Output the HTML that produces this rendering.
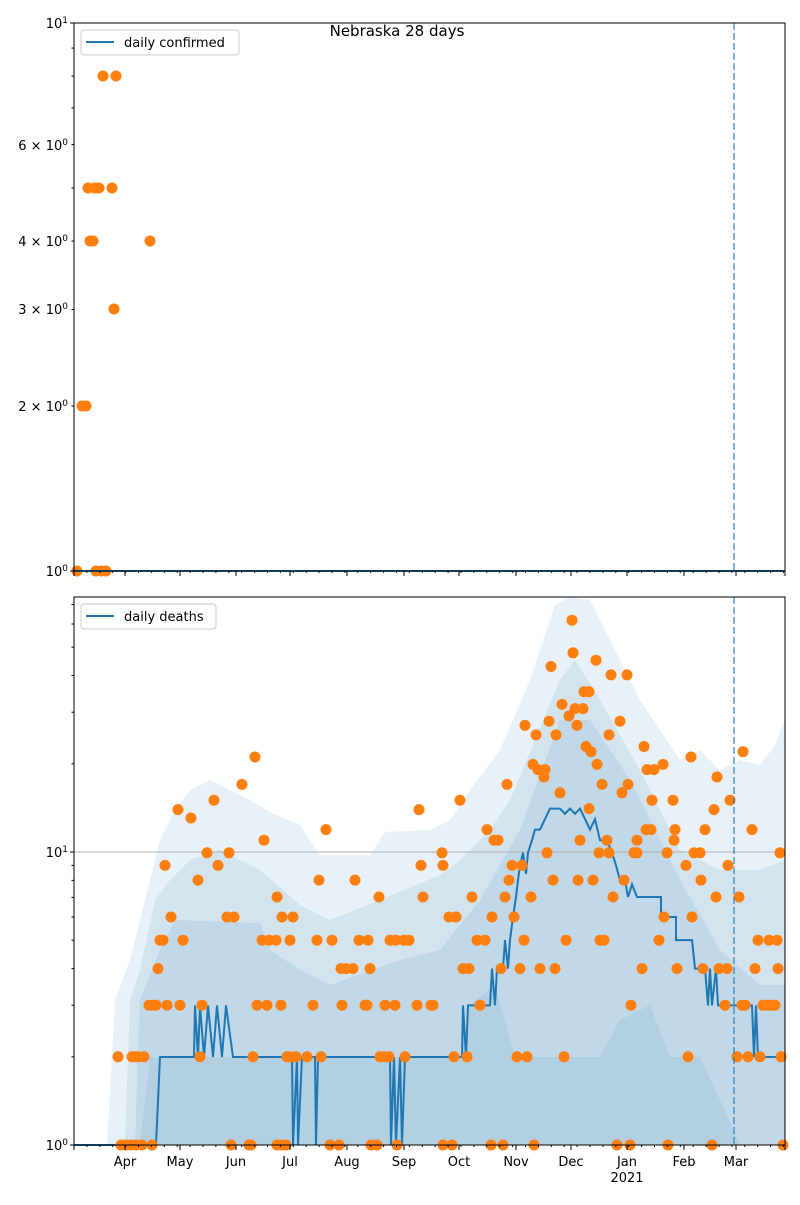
<!DOCTYPE html>
<html><head><meta charset="utf-8"><style>
body{margin:0;background:#fff}
svg text{font-family:"DejaVu Sans","Liberation Sans",sans-serif;font-size:13px;fill:#000}
</style></head><body>
<svg id="s" width="800" height="1200" xmlns="http://www.w3.org/2000/svg">
<rect width="800" height="1200" fill="#fff"/>
<g id="bands"></g>
<line x1="74" y1="852" x2="785" y2="852" stroke="#b0b0b0" stroke-width="1"/>
<g id="line"></g>
<g id="pts"></g>
<line x1="734" y1="23" x2="734" y2="571" stroke="#1f77b4" stroke-opacity="0.55" stroke-width="2" stroke-dasharray="7,3"/>
<line x1="734" y1="597" x2="734" y2="1145" stroke="#1f77b4" stroke-opacity="0.55" stroke-width="2" stroke-dasharray="7,3"/>
<line x1="74" y1="571" x2="785" y2="571" stroke="#1f77b4" stroke-width="2"/>
<rect x="74" y="23" width="711" height="548" fill="none" stroke="#000" stroke-width="1"/>
<rect x="74" y="597" width="711" height="548" fill="none" stroke="#000" stroke-width="1"/>
<g id="ticks" stroke="#000" stroke-width="1"></g>
<text x="397" y="36" text-anchor="middle" style="font-size:15px">Nebraska 28 days</text>
<text x="68" y="28" text-anchor="end">10<tspan dy="-5" style="font-size:9px">1</tspan></text>
<text x="68" y="150" text-anchor="end">6 × 10<tspan dy="-5" style="font-size:9px">0</tspan></text>
<text x="68" y="246" text-anchor="end">4 × 10<tspan dy="-5" style="font-size:9px">0</tspan></text>
<text x="68" y="314" text-anchor="end">3 × 10<tspan dy="-5" style="font-size:9px">0</tspan></text>
<text x="68" y="411" text-anchor="end">2 × 10<tspan dy="-5" style="font-size:9px">0</tspan></text>
<text x="68" y="576" text-anchor="end">10<tspan dy="-5" style="font-size:9px">0</tspan></text>
<text x="68" y="857" text-anchor="end">10<tspan dy="-5" style="font-size:9px">1</tspan></text>
<text x="68" y="1150" text-anchor="end">10<tspan dy="-5" style="font-size:9px">0</tspan></text>
<g text-anchor="middle">
<text x="125" y="1166">Apr</text><text x="180" y="1166">May</text><text x="236" y="1166">Jun</text>
<text x="290" y="1166">Jul</text><text x="347" y="1166">Aug</text><text x="404" y="1166">Sep</text>
<text x="459" y="1166">Oct</text><text x="516" y="1166">Nov</text><text x="571" y="1166">Dec</text>
<text x="627" y="1166">Jan</text><text x="684" y="1166">Feb</text><text x="736" y="1166">Mar</text>
<text x="627" y="1182">2021</text>
</g>
<rect x="81" y="30" width="158" height="25" rx="3" fill="#fff" fill-opacity="0.8" stroke="#ccc"/>
<line x1="86" y1="42" x2="114" y2="42" stroke="#1f77b4" stroke-width="2"/>
<text x="124" y="47">daily confirmed</text>
<rect x="81" y="604" width="135" height="25" rx="3" fill="#fff" fill-opacity="0.8" stroke="#ccc"/>
<line x1="86" y1="616" x2="114" y2="616" stroke="#1f77b4" stroke-width="2"/>
<text x="124" y="621">daily deaths</text>
</svg>
<script>
var NS="http://www.w3.org/2000/svg";
function el(p,t,a){var e=document.createElementNS(NS,t);for(var k in a)e.setAttribute(k,a[k]);document.getElementById(p).appendChild(e);return e;}
function T(y){return y>=1140?1145:597+(y-597)*1.0526;}
function poly(up,lo,op){var d="M"+up.map(function(p){return p[0]+","+p[1]}).join(" L");for(var i=lo.length-1;i>=0;i--)d+=" L"+lo[i][0]+","+lo[i][1];el("bands","path",{d:d+"Z",fill:"#1f77b4","fill-opacity":op});}
var B=1145;
poly([[107,B],[115,1000],[130,960],[145,900],[160,840],[175,810],[190,790],[210,780],[230,790],[250,800],[270,812],[300,825],[320,855],[345,855],[370,855],[385,832],[430,830],[450,820],[470,790],[500,750],[530,680],[555,605],[570,597],[590,600],[610,640],[640,700],[660,730],[680,760],[700,750],[720,770],[740,760],[760,765],[775,745],[785,720]],[[107,B],[785,B]],0.1);
poly([[125,B],[130,1000],[140,970],[155,900],[170,880],[190,860],[220,850],[260,870],[300,905],[330,920],[380,900],[440,875],[460,860],[490,830],[510,800],[535,740],[560,680],[575,660],[600,700],[640,770],[680,850],[720,870],[760,870],[785,860]],[[125,B],[785,B]],0.1);
poly([[135,B],[140,1000],[160,950],[175,920],[260,923],[270,950],[300,970],[330,985],[400,960],[440,950],[480,900],[520,830],[560,720],[590,720],[630,780],[680,880],[720,950],[760,985],[785,985]],[[135,B],[785,B]],0.1);
poly([[140,B],[150,1057],[460,1057],[470,1005],[495,985],[515,1057],[600,1057],[620,1020],[650,1005],[670,1057],[700,1057],[720,1100],[740,B]],[[140,B],[740,B]],0.08);
var L=[[74,B],[156,B],[160,1034],[194,1034],[195,985],[198,1034],[200,985],[204,1034],[208,985],[213,1034],[217,985],[222,1034],[226,985],[233,1034],[292,1034],[293,B],[297,1034],[298,B],[302,1034],[315,1034],[316,B],[318,1034],[390,1034],[391,B],[394,1034],[396,B],[400,1034],[402,B],[405,1034],[462,1034],[463,985],[466,1034],[468,985],[490,985],[492,950],[495,985],[497,950],[503,950],[505,923],[508,950],[510,923],[513,901],[516,882],[518,866],[520,852],[523,840],[526,860],[528,840],[532,828],[535,818],[540,818],[545,808],[550,798],[560,798],[565,803],[570,798],[575,803],[580,798],[585,808],[590,818],[595,808],[600,828],[607,828],[612,840],[616,852],[620,866],[625,866],[628,882],[632,870],[637,882],[661,882],[661,901],[676,901],[676,923],[692,923],[695,950],[705,950],[708,985],[710,950],[712,985],[716,950],[718,985],[752,985],[754,1034],[756,985],[758,1034],[785,1034]];
el("line","path",{d:"M"+L.map(function(p){return p[0]+","+T(p[1]).toFixed(1)}).join(" L"),fill:"none",stroke:"#1f77b4","stroke-width":2});
function lv(v){return 1145-Math.log10(v)*293;}
var P=[];
function row(v,xs){xs.forEach(function(x){P.push([x,lv(v)])});}
row(1,[121,126,131,136,142,152,231,249,251,277,282,286,330,339,371,377,397,443,452,491,503,534,617,630,668,712,783]);
row(2,[118,132,135,138,144,200,253,287,290,296,307,321,380,384,389,405,454,467,517,527,564,688,737,748,760,781]);
row(3,[149,153,156,167,180,202,257,267,281,313,342,365,367,385,395,417,431,433,480,631,725,742,745,763,767,771,775]);
row(4,[158,341,346,353,370,463,469,501,520,540,555,642,677,703,719,727,755,778]);
row(5,[160,163,183,262,269,276,290,317,332,359,368,390,396,404,409,477,485,524,566,600,604,659,758,769,777]);
row(6,[171,227,234,282,293,449,456,492,514]);
var Q=[[165,852],[198,866],[218,852],[207,840],[229,840],[178,799],[191,807],[214,790],[242,775],[255,749],[264,828],[277,882],[319,866],[326,818],[355,866],[379,882],[419,799],[421,852],[423,882],
[442,840],[443,852],[460,790],[472,882],[487,818],[494,828],[498,828],[507,775],[509,866],[512,852],[522,852],[505,882],[525,719],[536,728],[533,756],[538,761],[545,761],[544,768],[547,840],[531,882],
[551,663],[549,715],[556,728],[562,699],[569,710],[575,703],[583,703],[577,719],[572,619],[573,650],[584,687],[589,687],[586,739],[591,744],[597,756],[560,783],[589,798],[580,828],[553,866],[578,866],[593,866],
[596,657],[611,671],[627,671],[620,715],[609,728],[602,775],[622,783],[628,775],[607,828],[599,840],[609,840],[613,882],[624,866],[637,828],[634,840],[637,840],[644,739],[647,761],[654,761],[663,756],[652,790],[673,790],[646,818],[651,818],[675,818],[674,828],[667,840],[664,901],[692,901],
[691,749],[717,768],[714,799],[705,818],[694,840],[700,840],[686,852],[701,866],[716,882],[730,790],[728,852],[743,744],[752,818],[739,882],[780,840]];
Q.forEach(function(p){P.push([p[0],T(p[1])])});
P.forEach(function(p){el("pts","circle",{cx:p[0],cy:p[1].toFixed(1),r:5.5,fill:"#ff7f0e"})});
[[77,571],[82,406],[86,406],[88,188],[90,241],[93,241],[95,188],[96,571],[99,188],[101,571],[103,76],[106,571],[112,188],[114,309],[116,76],[150,241]].forEach(function(p){el("pts","circle",{cx:p[0],cy:p[1],r:5.5,fill:"#ff7f0e"})});
var months=[74,125,180,236,290,347,404,459,516,571,627,684,736,785];
function tk(x1,y1,x2,y2){el("ticks","line",{x1:x1,y1:y1,x2:x2,y2:y2});}
months.forEach(function(x){tk(x,571,x,576);tk(x,1145,x,1150);});
for(var x=74;x<=785;x+=12.9){tk(x,571,x,573);tk(x,1145,x,1147);}
tk(70,23,74,23);tk(70,571,74,571);
[2,3,4,5,6,7,8,9].forEach(function(v){var y=571-Math.log10(v)*548;tk(71.5,y,74,y);});
tk(70,852,74,852);tk(70,1145,74,1145);
[2,3,4,5,6,7,8,9,20,30,40,50,60,70].forEach(function(v){var y=lv(v);tk(71.5,y,74,y);});
</script>
</body></html>
